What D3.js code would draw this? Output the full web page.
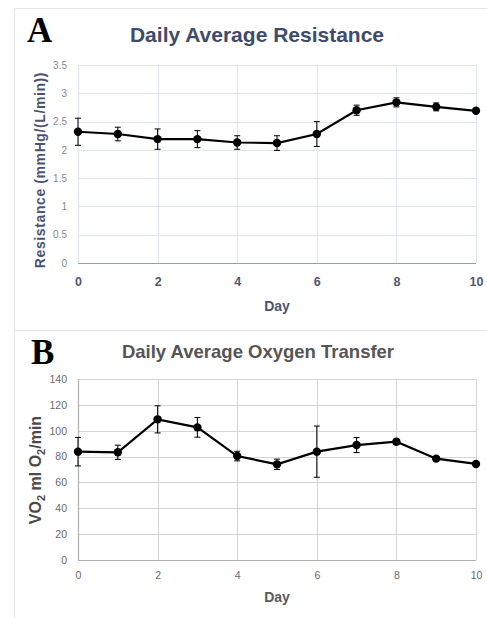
<!DOCTYPE html>
<html>
<head>
<meta charset="utf-8">
<script src="https://cdn.jsdelivr.net/npm/d3@7"></script>
<style>
  body { margin: 0; background: #fff; }
  svg { display: block; }
</style>
</head>
<body>
<svg id="chart" width="487" height="618"></svg>
<script>
// Days of measurement (shared x values)
const days = [0, 1, 2, 3, 4, 5, 6, 7, 8, 9, 10];

// Panel A: daily average resistance, mmHg/(L/min)
const resistanceMean = [2.32, 2.28, 2.19, 2.19, 2.13, 2.12, 2.28, 2.70, 2.84, 2.76, 2.69];
const resistanceErr  = [0.24, 0.12, 0.18, 0.15, 0.12, 0.13, 0.22, 0.09, 0.08, 0.07, 0.02];
const resistanceTicks = [0, 0.5, 1, 1.5, 2, 2.5, 3, 3.5];

// Panel B: daily average oxygen transfer, ml O2/min
const vo2Mean = [83.8, 83.3, 108.8, 102.6, 80.4, 74.0, 83.8, 88.9, 91.5, 78.4, 74.3];
const vo2Err  = [11.0, 5.5, 10.5, 7.6, 3.7, 4.0, 19.8, 5.8, 2.0, 1.5, 1.0];
const vo2Ticks = [0, 20, 40, 60, 80, 100, 120, 140];

const dayTicks = [0, 2, 4, 6, 8, 10];

const svg = d3.select("#chart");

// Panel frames
svg.append("path")
  .attr("d", "M14.5,618 V8.5 H487 M14.5,330.5 H487")
  .attr("fill", "none").attr("stroke", "#e4e4e4").attr("stroke-width", 1);

function drawPanel(opts) {
  const x = d3.scaleLinear().domain([0, 10]).range([opts.left, opts.right]);
  const y = d3.scaleLinear().domain([0, opts.ymax]).range([opts.bottom, opts.top]);
  const g = svg.append("g");

  // Gridlines
  g.selectAll(".hg").data(opts.yTicks).join("line")
    .attr("x1", opts.left).attr("x2", opts.right)
    .attr("y1", d => Math.round(y(d)) + 0.5).attr("y2", d => Math.round(y(d)) + 0.5)
    .attr("stroke", opts.grid).attr("stroke-width", 1);
  g.selectAll(".vg").data(dayTicks).join("line")
    .attr("x1", d => Math.round(x(d)) + 0.5).attr("x2", d => Math.round(x(d)) + 0.5)
    .attr("y1", opts.top).attr("y2", opts.bottom)
    .attr("stroke", opts.grid).attr("stroke-width", 1);

  // Axis lines
  g.append("line")
    .attr("x1", opts.left).attr("x2", opts.right)
    .attr("y1", Math.round(y(0)) + 0.5).attr("y2", Math.round(y(0)) + 0.5)
    .attr("stroke", opts.xAxisColor).attr("stroke-width", 1.2);
  g.append("line")
    .attr("x1", Math.round(x(0)) + 0.5).attr("x2", Math.round(x(0)) + 0.5)
    .attr("y1", opts.top).attr("y2", opts.bottom)
    .attr("stroke", opts.yAxisColor).attr("stroke-width", 1.2);

  // Y tick labels
  const yAxis = d3.axisLeft(y).tickValues(opts.yTicks).tickSize(0).tickPadding(0)
    .tickFormat(d3.format("~g"));
  const ya = g.append("g").attr("transform", `translate(${opts.left - 11},0)`).call(yAxis);
  ya.select(".domain").remove();
  ya.selectAll("text")
    .attr("fill", opts.yTickColor)
    .style("font-family", "Liberation Sans, Arial, sans-serif")
    .style("font-size", opts.yTickSize + "px");

  // X tick labels
  const xAxis = d3.axisBottom(x).tickValues(dayTicks).tickSize(0).tickPadding(0);
  const xa = g.append("g").attr("transform", `translate(0,${opts.xTickY})`).call(xAxis);
  xa.select(".domain").remove();
  xa.selectAll("text")
    .attr("dy", "0.35em")
    .attr("fill", opts.xTickColor)
    .style("font-family", "Liberation Sans, Arial, sans-serif")
    .style("font-weight", opts.xTickWeight)
    .style("font-size", opts.xTickSize + "px");

  // Error bars
  const eb = g.append("g").attr("stroke", "#111").attr("stroke-width", 1.1);
  days.forEach((d, i) => {
    const cx = x(d), lo = y(opts.mean[i] - opts.err[i]), hi = y(opts.mean[i] + opts.err[i]);
    eb.append("line").attr("x1", cx).attr("x2", cx).attr("y1", lo).attr("y2", hi);
    eb.append("line").attr("x1", cx - 3).attr("x2", cx + 3).attr("y1", lo).attr("y2", lo);
    eb.append("line").attr("x1", cx - 3).attr("x2", cx + 3).attr("y1", hi).attr("y2", hi);
  });

  // Line and markers
  const line = d3.line().x((d, i) => x(days[i])).y(d => y(d));
  g.append("path").datum(opts.mean)
    .attr("d", line).attr("fill", "none")
    .attr("stroke", "#000").attr("stroke-width", 2.2);
  g.selectAll(".pt").data(opts.mean).join("circle")
    .attr("cx", (d, i) => x(days[i])).attr("cy", d => y(d))
    .attr("r", 4.2).attr("fill", "#000");

  // Titles and axis labels
  svg.append("text")
    .attr("x", opts.titleX).attr("y", opts.titleY)
    .attr("text-anchor", "middle")
    .attr("fill", opts.titleColor)
    .style("font-family", "Liberation Sans, Arial, sans-serif")
    .style("font-weight", "bold")
    .style("font-size", opts.titleSize + "px")
    .text(opts.title);

  svg.append("text")
    .attr("x", (opts.left + opts.right) / 2).attr("y", opts.dayY)
    .attr("text-anchor", "middle")
    .attr("fill", opts.labelColor)
    .style("font-family", "Liberation Sans, Arial, sans-serif")
    .style("font-weight", "bold")
    .style("font-size", opts.daySize + "px")
    .text("Day");

  svg.append("text")
    .attr("x", opts.letterX).attr("y", opts.letterY)
    .attr("fill", "#000")
    .style("font-family", "Liberation Serif, Times New Roman, serif")
    .style("font-weight", "bold")
    .style("font-size", "35px")
    .text(opts.letter);

  return { x, y };
}

drawPanel({
  left: 78, right: 476, top: 65, bottom: 263, ymax: 3.5,
  yTicks: resistanceTicks, mean: resistanceMean, err: resistanceErr,
  grid: "#dfe4ee", xAxisColor: "#8e9cc6", yAxisColor: "#dfe4ee",
  yTickColor: "#8a8a8a", yTickSize: 10,
  xTickY: 282, xTickColor: "#4f5872", xTickWeight: "bold", xTickSize: 12.5,
  title: "Daily Average Resistance", titleX: 257, titleY: 42, titleColor: "#3f4b6b", titleSize: 21,
  dayY: 311, daySize: 14, labelColor: "#4a5472",
  letter: "A", letterX: 27, letterY: 42
});

drawPanel({
  left: 78, right: 476, top: 379, bottom: 560, ymax: 140,
  yTicks: vo2Ticks, mean: vo2Mean, err: vo2Err,
  grid: "#d4d4d4", xAxisColor: "#b0b0b0", yAxisColor: "#b0b0b0",
  yTickColor: "#6a6a6a", yTickSize: 10.5,
  xTickY: 575, xTickColor: "#6a6a6a", xTickWeight: "normal", xTickSize: 10.5,
  title: "Daily Average Oxygen Transfer", titleX: 258, titleY: 358, titleColor: "#555555", titleSize: 18.5,
  dayY: 602, daySize: 14, labelColor: "#5a5a5a",
  letter: "B", letterX: 31, letterY: 364
});

// Y-axis titles
svg.append("text")
  .attr("transform", "translate(45,170) rotate(-90)")
  .attr("text-anchor", "middle")
  .attr("fill", "#4a5472")
  .style("font-family", "Liberation Sans, Arial, sans-serif")
  .style("font-weight", "bold")
  .style("font-size", "14px")
  .style("letter-spacing", "0.6px")
  .text("Resistance (mmHg/(L/min))");

const vo2Label = svg.append("text")
  .attr("transform", "translate(41,470) rotate(-90)")
  .attr("text-anchor", "middle")
  .attr("fill", "#4a4a4a")
  .style("font-family", "Liberation Sans, Arial, sans-serif")
  .style("font-weight", "bold")
  .style("font-size", "16px");
vo2Label.append("tspan").text("VO");
vo2Label.append("tspan").attr("dy", 4).style("font-size", "11px").text("2");
vo2Label.append("tspan").attr("dy", -4).text(" ml O");
vo2Label.append("tspan").attr("dy", 4).style("font-size", "11px").text("2");
vo2Label.append("tspan").attr("dy", -4).text("/min");
</script>
</body>
</html>
